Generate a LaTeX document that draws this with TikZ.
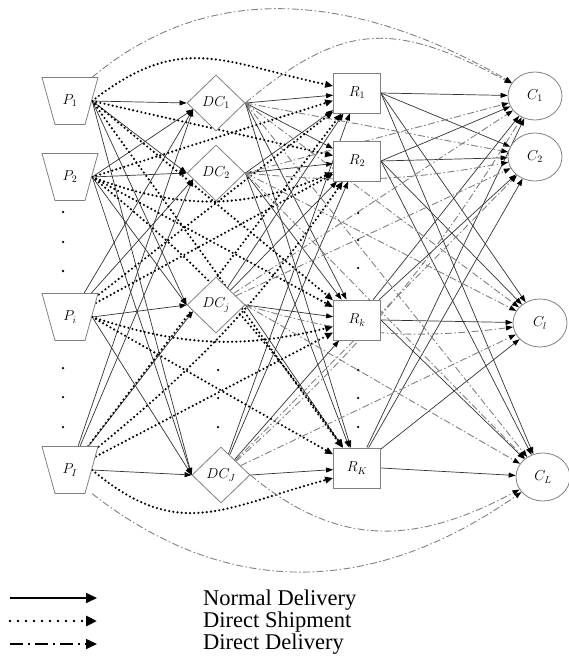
\documentclass[tikz,border=0pt]{standalone}
\usepackage{fontspec}
\setmainfont{Liberation Serif}
\usetikzlibrary{arrows.meta,shapes.geometric,calc}
\pgfdeclarelayer{bg}
\pgfsetlayers{bg,main}
\begin{document}
\begin{tikzpicture}[x=1pt,y=1pt,
 lab/.style={font=\Large,inner sep=0pt},
 pn/.style={lab,minimum width=44pt,minimum height=47pt},
 dcn/.style={lab,diamond,draw=gray,fill=white,line width=0.8pt,minimum width=58pt,minimum height=56pt},
 rn/.style={lab,rectangle,draw=gray,fill=white,line width=0.8pt,minimum width=47pt,minimum height=40pt},
 cn/.style={lab,ellipse,draw=gray,fill=white,line width=0.8pt,minimum width=54pt,minimum height=48pt},
 arrowhd/.style={-{Triangle[length=7pt,width=5pt,color=black]}},
 nrm/.style={draw=black!80,line width=0.7pt,arrowhd},
 dshp/.style={draw=black,line width=2.4pt,line cap=round,dash pattern=on 0pt off 4.2pt,-{Triangle[length=8pt,width=6.5pt,color=black]}},
 ddel/.style={draw=gray,line width=0.9pt,dash pattern=on 7pt off 2.5pt on 1.5pt off 2.5pt,arrowhd},
 dotc/.style={circle,fill=black,inner sep=0pt,minimum size=2.5pt},
 legtxt/.style={anchor=base west,inner sep=0pt,font=\fontsize{22.5}{25}\selectfont},
 legtip/.style={-{Triangle[length=11pt,width=10pt]}},
]
\useasboundingbox (0,0) rectangle (568,-660);

% plants (trapezoids)
\foreach \x/\y in {70/-101,70/-177,70/-317,70/-470}
  \filldraw[draw=gray,fill=white,line width=0.8pt] (\x-28,\y+23.5) -- (\x+28,\y+23.5) -- (\x+15,\y-23.5) -- (\x-15,\y-23.5) -- cycle;
\node[pn] (P1) at (70,-101) {$P_1$};
\node[pn] (P2) at (70,-177) {$P_2$};
\node[pn] (Pi) at (70,-317) {$P_i$};
\node[pn] (PI) at (70,-470) {$P_I$};
% distribution centres
\node[dcn] (DC1) at (216,-103) {$DC_1$};
\node[dcn] (DC2) at (216,-173) {$DC_2$};
\node[dcn] (DCj) at (216,-305) {$DC_j$};
\node[dcn] (DCJ) at (221,-475) {$DC_J$};
% retailers
\node[rn] (R1) at (357,-93) {$R_1$};
\node[rn] (R2) at (357,-161) {$R_2$};
\node[rn] (Rk) at (357,-320) {$R_k$};
\node[rn] (RK) at (357,-468) {$R_K$};
% customers
\node[cn] (C1) at (535,-96) {$C_1$};
\node[cn] (C2) at (535,-157) {$C_2$};
\node[cn] (Cl) at (540,-323) {$C_l$};
\node[cn] (CL) at (543,-477) {$C_L$};

% ellipsis dots
\foreach \y in {212,242,271,368,397,427} \node[dotc] (pd\y) at (63,-\y) {};
\foreach \y in {370,398,427} \node[dotc] (dd\y) at (218,-\y) {};
\foreach \y in {213,240,268,370,398,427} \node[dotc] (rd\y) at (358,-\y) {};

\coordinate (DC1b) at ($(DC1.west)!0.22!(DC1.south)$);
\coordinate (DC2b) at ($(DC2.west)!0.22!(DC2.south)$);
\coordinate (DCjb) at ($(DCj.west)!0.22!(DCj.south)$);

\begin{pgfonlayer}{bg}
% normal delivery: plants -> DCs
\foreach \s/\t in {P1.east/DC1.west, P1.east/DC2.west, P1.east/DCj.west, P1.east/DCJ.west,
  P2.east/DC1b, P2.east/DC2.west, P2.east/DCj.west, P2.east/DCJ.west,
  Pi/DC1b, Pi/DC2b, Pi.east/DCj.west, Pi.east/DCJ.west,
  PI/DC1b, PI/DC2b, PI/DCjb, PI.east/DCJ.west}
  \draw[nrm] (\s) -- (\t);
% normal delivery: DCs -> retailers
\foreach \s/\t in {DC1.east/R1, DC1.east/R2, DC1.east/Rk, DC1.east/RK,
  DC2.east/R1, DC2.east/R2, DC2.east/Rk, DC2.east/RK,
  DCj/R1, DCj/R2, DCj.east/Rk, DCj.east/RK,
  DCJ/R1, DCJ/R2, DCJ/Rk, DCJ.east/RK}
  \draw[nrm] (\s) -- (\t);
% normal delivery: retailers -> customers
\foreach \s/\t in {R1.east/C1, R1.east/C2, R1.east/Cl, R1.east/CL,
  R2.east/C1, R2.east/C2, R2.east/Cl, R2.east/CL,
  Rk/C1, Rk/C2, Rk.east/Cl, Rk.east/CL,
  RK/C1, RK/C2, RK/Cl, RK.east/CL}
  \draw[nrm] (\s) -- (\t);

% direct shipment: plants -> retailers
\draw[dshp] (P1.east) to[out=38,in=168,looseness=1.2] ([yshift=7pt]R1.west);
\foreach \s/\t in {P1.east/R2, P1.east/Rk, P1.east/RK,
  P2.east/R1, P2.east/Rk,
  Pi/R1, Pi/R2, Pi.east/RK,
  PI/R1, PI/Rk}
  \draw[dshp] (\s) -- (\t);
\draw[dshp] (P2.east) to[bend right=22] (R2);
\draw[dshp] (P2.east) to[bend left=8] (RK);
\draw[dshp] (Pi.east) to[bend right=16] (Rk);
\draw[dshp] (PI) to[bend right=8] (R2);
\draw[dshp] (PI.east) to[out=-40,in=195,looseness=1.2] ([yshift=-10pt]RK.west);

% direct delivery: DCs / plants -> customers
\draw[ddel] (P1.north east) to[out=40,in=150,looseness=1.0] (C1);
\draw[ddel] (DC1.east) to[out=40,in=152,looseness=1.25] (C1);
\draw[ddel] (PI.south east) to[out=-38,in=-145,looseness=1.05] (CL);
\draw[ddel] (DCJ.east) to[out=-40,in=-152,looseness=1.1] (CL);
\foreach \s/\t in {DC1.east/C2, DC1.east/Cl, DC1.east/CL,
  DC2.east/C1, DC2.east/Cl, DC2.east/CL,
  DCj/C1, DCj/C2, DCj.east/CL,
  DCJ/C2, DCJ/Cl}
  \draw[ddel] (\s) -- (\t);
\draw[ddel] (DC2.east) to[bend right=8] (C2);
\draw[ddel] (DCj.east) to[bend right=12] (Cl);
\draw[ddel] (DCJ) to[bend right=8] (C1);
\end{pgfonlayer}

% legend
\coordinate (L1a) at (10,-598); \coordinate (L1b) at (97,-598);
\coordinate (L2a) at (10,-621); \coordinate (L2b) at (97,-621);
\coordinate (L3a) at (10,-644); \coordinate (L3b) at (97,-644);
\draw[line width=1.6pt,legtip] (L1a) -- (L1b);
\draw[line width=2.8pt,line cap=round,dash pattern=on 0pt off 8pt,legtip] (L2a) -- (L2b);
\draw[line width=1.6pt,dash pattern=on 13pt off 5pt on 2pt off 5pt,legtip] (L3a) -- (L3b);
\node[legtxt] (T1) at (203,-605) {Normal Delivery};
\node[legtxt] (T2) at (203,-627) {Direct Shipment};
\node[legtxt] (T3) at (203,-649) {Direct Delivery};
\end{tikzpicture}
\end{document}
